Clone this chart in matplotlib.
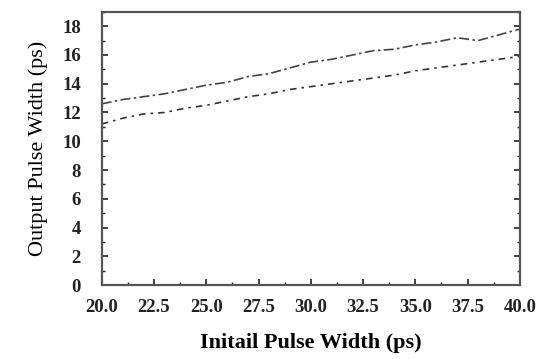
import matplotlib
matplotlib.use("Agg")
import matplotlib.pyplot as plt
from matplotlib.ticker import MultipleLocator, FormatStrFormatter

x_vals = [20, 21, 22, 23, 24, 25, 26, 27, 28, 29, 30, 31, 32, 33, 34, 35, 36, 37, 38, 39, 40]
upper = [12.6, 12.9, 13.1, 13.3, 13.6, 13.9, 14.1, 14.5, 14.7, 15.1, 15.5, 15.7, 16.0, 16.3, 16.4,
         16.7, 16.9, 17.2, 17.0, 17.4, 17.8]
lower = [11.2, 11.6, 11.9, 12.0, 12.3, 12.5, 12.8, 13.1, 13.3, 13.6, 13.8, 14.0, 14.2, 14.4, 14.6,
         14.9, 15.1, 15.3, 15.5, 15.7, 15.9]
x_ticks = [20.0, 22.5, 25.0, 27.5, 30.0, 32.5, 35.0, 37.5, 40.0]
y_ticks = [0, 2, 4, 6, 8, 10, 12, 14, 16, 18]

plt.rcParams['font.family'] = ['Liberation Serif', 'DejaVu Serif']

fig = plt.figure(figsize=(5.53, 3.59), dpi=100)
ax = fig.add_axes([0.184, 0.206, 0.756, 0.761])

ax.plot(x_vals, upper, color='#444444', lw=1.2, dashes=(6, 2, 1.5, 2))
ax.plot(x_vals, lower, color='#333333', lw=1.2, dashes=(4, 3, 1.5, 3))

ax.set_xlim(20, 40)
ax.set_ylim(0, 19)
ax.set_xticks(x_ticks)
ax.set_yticks(y_ticks)
ax.xaxis.set_major_formatter(FormatStrFormatter('%.1f'))
ax.xaxis.set_minor_locator(MultipleLocator(1.25))
ax.yaxis.set_minor_locator(MultipleLocator(1))

ax.tick_params(which='both', direction='in', right=True, top=False, colors='#222222')
ax.tick_params(which='major', length=4, width=1.2, labelsize=13.5)
ax.tick_params(axis='x', which='major', pad=10)
ax.tick_params(axis='y', which='major', pad=15)
ax.tick_params(which='minor', length=2, width=1)
for lbl in ax.get_xticklabels() + ax.get_yticklabels():
    lbl.set_fontweight('semibold')

for sp in ax.spines.values():
    sp.set_linewidth(1.6)
    sp.set_color('#555555')

ax.set_xlabel('Initail Pulse Width (ps)', fontsize=16, fontweight='bold', labelpad=12)
ax.set_ylabel('Output Pulse Width (ps)', fontsize=16, labelpad=10)

fig.savefig('out.png', dpi=100)
